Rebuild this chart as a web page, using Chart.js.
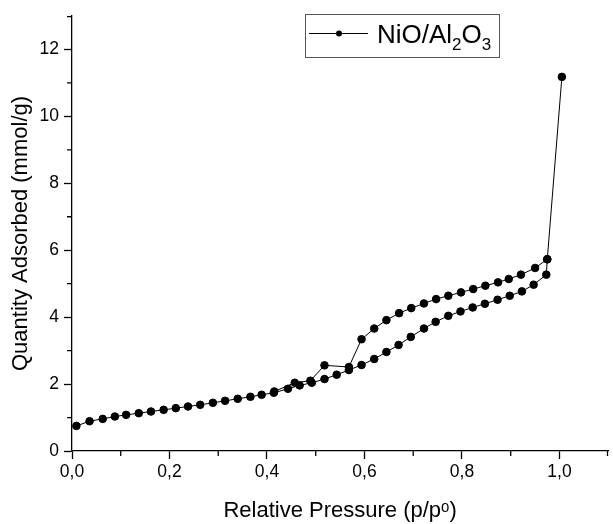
<!DOCTYPE html>
<html>
<head>
<meta charset="utf-8">
<script src="https://cdn.jsdelivr.net/npm/chart.js@4"></script>
<style>
  html, body { margin: 0; padding: 0; background: #fff; }
  canvas { display: block; }
</style>
</head>
<body>
<canvas id="isoChart" width="613" height="524"></canvas>
<script>
// adsorption branch (lower), ends with the jump near p/p0 = 1
const adsP = [0.009, 0.036, 0.063, 0.088, 0.111, 0.137, 0.162, 0.188, 0.213, 0.238,
    0.263, 0.289, 0.314, 0.340, 0.366, 0.389, 0.414, 0.443, 0.467, 0.492,
    0.518, 0.543, 0.568, 0.594, 0.620, 0.645, 0.670, 0.695, 0.722, 0.746,
    0.772, 0.797, 0.822, 0.847, 0.873, 0.898, 0.923, 0.947, 0.973, 0.975, 1.005];
const adsQ = [0.75, 0.89, 0.96, 1.03, 1.08, 1.13, 1.18, 1.23, 1.28, 1.33,
    1.38, 1.44, 1.50, 1.56, 1.62, 1.68, 1.74, 1.86, 1.96, 2.04,
    2.15, 2.28, 2.42, 2.57, 2.75, 2.96, 3.17, 3.41, 3.66, 3.86,
    4.04, 4.17, 4.29, 4.40, 4.52, 4.64, 4.77, 4.97, 5.27, 5.73, 11.18];

// desorption branch (upper)
const desP = [0.975, 0.950, 0.921, 0.896, 0.874, 0.848, 0.823, 0.798, 0.772, 0.747,
    0.722, 0.696, 0.671, 0.645, 0.620, 0.594, 0.568, 0.518, 0.489, 0.457, 0.415];
const desQ = [5.73, 5.47, 5.27, 5.14, 5.04, 4.94, 4.84, 4.74, 4.64, 4.54,
    4.41, 4.27, 4.12, 3.91, 3.66, 3.34, 2.51, 2.56, 2.10, 2.04, 1.78];

const xMajor = [0, 0.2, 0.4, 0.6, 0.8, 1.0];
const xMinor = [0.1, 0.3, 0.5, 0.7, 0.9, 1.1];
const yMajor = [0, 2, 4, 6, 8, 10, 12];
const yMinor = [1, 3, 5, 7, 9, 11, 13];

const FONT = "'Liberation Sans', Arial, sans-serif";

const toPoints = (xs, ys) => xs.map((x, i) => ({ x: x, y: ys[i] }));

// short ticks between the labelled ones
const minorTicks = {
    id: "minorTicks",
    afterDraw(chart) {
        const c = chart.ctx;
        const xs = chart.scales.x;
        const ys = chart.scales.y;
        const area = chart.chartArea;
        c.save();
        c.strokeStyle = "#000";
        c.lineWidth = 1.3;
        c.beginPath();
        xMinor.forEach((v) => {
            const px = Math.min(xs.getPixelForValue(v), area.right - 0.7);
            c.moveTo(px, area.bottom);
            c.lineTo(px, area.bottom + 5);
        });
        yMinor.forEach((v) => {
            const py = Math.max(ys.getPixelForValue(v), area.top + 0.7);
            c.moveTo(area.left, py);
            c.lineTo(area.left - 5, py);
        });
        c.stroke();
        c.restore();
    },
};

// boxed legend with subscripts
const boxLegend = {
    id: "boxLegend",
    afterDraw(chart) {
        const c = chart.ctx;
        c.save();
        c.strokeStyle = "#555";
        c.lineWidth = 1;
        c.strokeRect(305.5, 14.5, 194, 43);

        c.strokeStyle = "#000";
        c.beginPath();
        c.moveTo(309, 33.5);
        c.lineTo(368, 33.5);
        c.stroke();
        c.fillStyle = "#000";
        c.beginPath();
        c.arc(339, 33.5, 3, 0, Math.PI * 2);
        c.fill();

        c.textBaseline = "alphabetic";
        let x = 377;
        const big = "26px " + FONT;
        const small = "17px " + FONT;
        const parts = [["NiO/Al", big, 43], ["2", small, 50], ["O", big, 43], ["3", small, 50]];
        parts.forEach(([t, f, y]) => {
            c.font = f;
            c.fillText(t, x, y);
            x += c.measureText(t).width;
        });
        c.restore();
    },
};

const ctx = document.getElementById("isoChart").getContext("2d");
new Chart(ctx, {
    type: "scatter",
    data: {
        datasets: [
            {
                label: "NiO/Al2O3",
                data: toPoints(adsP, adsQ),
                showLine: true,
                borderColor: "#000",
                backgroundColor: "#000",
                borderWidth: 1,
                pointRadius: 3.8,
                pointHoverRadius: 3.8,
                tension: 0,
            },
            {
                label: "desorption",
                data: toPoints(desP, desQ),
                showLine: true,
                borderColor: "#000",
                backgroundColor: "#000",
                borderWidth: 1,
                pointRadius: 3.8,
                pointHoverRadius: 3.8,
                tension: 0,
            },
        ],
    },
    options: {
        responsive: false,
        animation: false,
        layout: { padding: { top: 16, right: 0, left: 0, bottom: 0 } },
        scales: {
            x: {
                type: "linear",
                min: 0,
                max: 1.1,
                afterBuildTicks: (s) => { s.ticks = xMajor.map((v) => ({ value: v })); },
                afterFit: (s) => { s.height = 73; },
                grid: { drawOnChartArea: false, tickLength: 8, tickColor: "#000", tickWidth: 1.3 },
                border: { color: "#000", width: 1.3 },
                ticks: {
                    autoSkip: false,
                    maxRotation: 0,
                    padding: 3,
                    color: "#000",
                    font: { family: FONT, size: 17.5 },
                    callback: (v) => Number(v).toFixed(1).replace(".", ","),
                },
                title: {
                    display: true,
                    text: "Relative Pressure (p/pᵒ)",
                    color: "#000",
                    font: { family: FONT, size: 22 },
                    padding: { top: 0, bottom: 0 },
                },
            },
            y: {
                type: "linear",
                min: 0,
                max: 13,
                afterBuildTicks: (s) => { s.ticks = yMajor.map((v) => ({ value: v })); },
                afterFit: (s) => { s.width = 72; },
                grid: { drawOnChartArea: false, tickLength: 8, tickColor: "#000", tickWidth: 1.3 },
                border: { color: "#000", width: 1.3 },
                ticks: {
                    autoSkip: false,
                    padding: 5,
                    color: "#000",
                    font: { family: FONT, size: 17.5 },
                },
                title: {
                    display: true,
                    text: "Quantity Adsorbed (mmol/g)",
                    color: "#000",
                    font: { family: FONT, size: 22 },
                    padding: { top: 8, bottom: 0 },
                },
            },
        },
        plugins: {
            legend: { display: false },
            tooltip: { enabled: false },
        },
    },
    plugins: [minorTicks, boxLegend],
});
</script>
</body>
</html>
